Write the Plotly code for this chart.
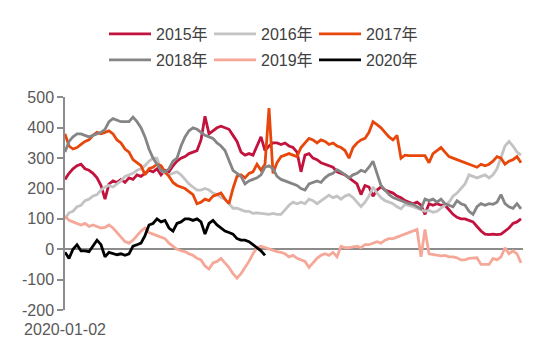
import plotly.graph_objects as go

names = ["2015年", "2016年", "2017年", "2018年", "2019年", "2020年"]
colors = ["#C1133E", "#C3C3C3", "#E8470C", "#858585", "#F5A898", "#000000"]

tick_label = "2020-01-02"
ytick_vals = [-200, -100, 0, 100, 200, 300, 400, 500]
ytick_text = ["-200", "-100", "0", "100", "200", "300", "400", "500"]

y2015 = [230, 250, 265, 275, 280, 265, 260, 250, 235, 210, 165, 215, 225, 220, 230, 220, 235, 230, 245, 240,
         250, 260, 255, 265, 245, 260, 255, 275, 290, 300, 305, 315, 320, 325, 360, 438, 380, 390, 400, 405,
         400, 395, 375, 355, 320, 310, 315, 310, 340, 370, 325, 340, 350, 350, 345, 350, 340, 335, 320, 255,
         310, 315, 300, 295, 285, 280, 275, 270, 255, 250, 245, 235, 225, 215, 180, 210, 205, 175, 195, 205,
         195, 190, 185, 175, 170, 160, 155, 150, 155, 145, 115, 150, 145, 150, 145, 145, 130, 115, 105, 100,
         100, 95, 90, 75, 60, 50, 48, 50, 48, 50, 60, 70, 85, 90, 100]

y2016 = [100, 120, 125, 140, 145, 160, 165, 175, 180, 195, 205, 210, 205, 215, 225, 240, 245, 250, 260, 265,
         275, 290, 300, 300, 260, 250, 245, 250, 255, 245, 230, 215, 205, 195, 195, 200, 195, 185, 180, 170,
         165, 150, 135, 135, 130, 125, 125, 118, 120, 118, 115, 115, 118, 115, 115, 130, 145, 155, 150, 155,
         150, 165, 160, 150, 160, 170, 178, 170, 175, 165, 175, 180, 170, 155, 140, 155, 175, 205, 185, 170,
         160, 155, 150, 140, 133, 148, 145, 140, 135, 130, 125, 128, 122, 125, 135, 145, 155, 175, 185, 200,
         215, 245, 240, 235, 240, 245, 235, 245, 265, 305, 340, 355, 340, 320, 310]

y2017 = [380, 340, 330, 335, 345, 355, 360, 375, 385, 380, 385, 390, 380, 360, 350, 330, 320, 295, 285, 275,
         245, 265, 270, 280, 275, 255, 240, 220, 210, 205, 200, 190, 180, 150, 155, 165, 160, 175, 180, 185,
         165, 150, 200, 240, 245, 235, 250, 255, 280, 260, 280, 465, 250, 285, 305, 310, 315, 310, 305, 335,
         350, 365, 360, 350, 360, 355, 345, 350, 340, 335, 325, 300, 335, 350, 360, 365, 385, 420, 410, 400,
         385, 370, 360, 375, 300, 310, 308, 308, 308, 308, 308, 285, 315, 325, 335, 320, 305, 300, 295, 290,
         285, 280, 275, 270, 280, 275, 280, 290, 305, 300, 280, 290, 295, 305, 285]

y2018 = [320, 355, 370, 380, 380, 375, 370, 375, 380, 385, 395, 420, 430, 425, 420, 420, 420, 435, 420, 400,
         370, 330, 300, 280, 260, 255, 265, 290, 300, 340, 370, 390, 400, 395, 385, 375, 370, 365, 350, 340,
         325, 290, 260, 250, 240, 215, 225, 230, 235, 245, 270, 275, 265, 240, 230, 225, 220, 215, 210, 200,
         195, 215, 220, 225, 220, 235, 245, 250, 262, 255, 245, 235, 245, 250, 260, 255, 270, 290, 250, 210,
         195, 180, 170, 165, 160, 155, 150, 148, 140, 133, 165, 160, 165, 155, 165, 150, 145, 140, 160, 150,
         145, 125, 115, 140, 150, 145, 150, 148, 155, 180, 150, 140, 135, 150, 133]

y2019 = [110, 95, 90, 85, 80, 85, 75, 80, 75, 70, 72, 80, 70, 55, 40, 25, 20, 30, 45, 60,
         70, 55, 50, 45, 40, 35, 20, 10, 0, -5, -8, -15, -20, -30, -35, -55, -65, -45, -40, -30,
         -45, -60, -80, -95, -80, -60, -40, -15, 5, 10, 5, 0, -5, -8, -10, -15, -25, -20, -30, -35,
         -40, -60, -45, -30, -20, -15, -20, -10, -25, 10, 5, 5, 8, 10, 5, 15, 15, 20, 25, 20,
         30, 35, 35, 40, 45, 50, 55, 60, 65, -25, 65, -15, -18, -20, -22, -20, -25, -25, -28, -35,
         -35, -30, -30, -28, -50, -50, -50, -30, -35, -25, 5, -15, -5, -15, -45]

y2020 = [-10, -30, 0, 15, -5, -5, -8, 10, 30, 15, -25, -10, -15, -18, -15, -20, -15, 10, 15, 20,
         45, 80, 85, 100, 90, 95, 70, 60, 85, 90, 100, 100, 95, 100, 90, 50, 85, 95, 80, 70,
         60, 55, 50, 35, 30, 30, 25, 15, 5, -5, -20]

series = [y2015, y2016, y2017, y2018, y2019, y2020]

font_family = "Liberation Sans, Arial, Noto Sans CJK SC, sans-serif"

W, H = 542, 352

fig = go.Figure()
for k, (name, vals, col) in enumerate(zip(names, series, colors)):
    fig.add_trace(go.Scatter(
        x=list(range(len(vals))), y=vals, name=name, mode="lines",
        line=dict(color=col, width=2.8),
        legend="legend" if k < 3 else "legend2",
    ))

leg_common = dict(
    orientation="h", xref="container", yref="container",
    xanchor="left", yanchor="middle",
    font=dict(family=font_family, size=16, color="#404040"),
    entrywidth=48, itemwidth=42, bgcolor="rgba(0,0,0,0)",
    tracegroupgap=0,
)

fig.update_layout(
    width=W, height=H,
    margin=dict(l=57, r=27, t=86, b=50),
    paper_bgcolor="white", plot_bgcolor="white",
    font=dict(family=font_family, size=16, color="#595959"),
    showlegend=True,
    legend=dict(x=96 / W, y=1 - 26 / H, **leg_common),
    legend2=dict(x=96 / W, y=1 - 52 / H, **leg_common),
    xaxis=dict(
        range=[0, 114.5], showgrid=False, zeroline=False, showline=False,
        tickmode="array", tickvals=[0], ticktext=[tick_label],
        ticks="", ticklabelstandoff=8,
        tickfont=dict(size=16, color="#595959"),
    ),
    yaxis=dict(
        range=[-200, 500], showgrid=False,
        tickmode="array", tickvals=ytick_vals, ticktext=ytick_text,
        showline=True, linecolor="#8C8C8C", linewidth=1.5,
        ticks="outside", ticklen=6, tickcolor="#8C8C8C", tickwidth=1.5,
        zeroline=True, zerolinecolor="#8C8C8C", zerolinewidth=1.5,
        tickfont=dict(size=16, color="#595959"),
    ),
)

fig.write_html("out.html")
